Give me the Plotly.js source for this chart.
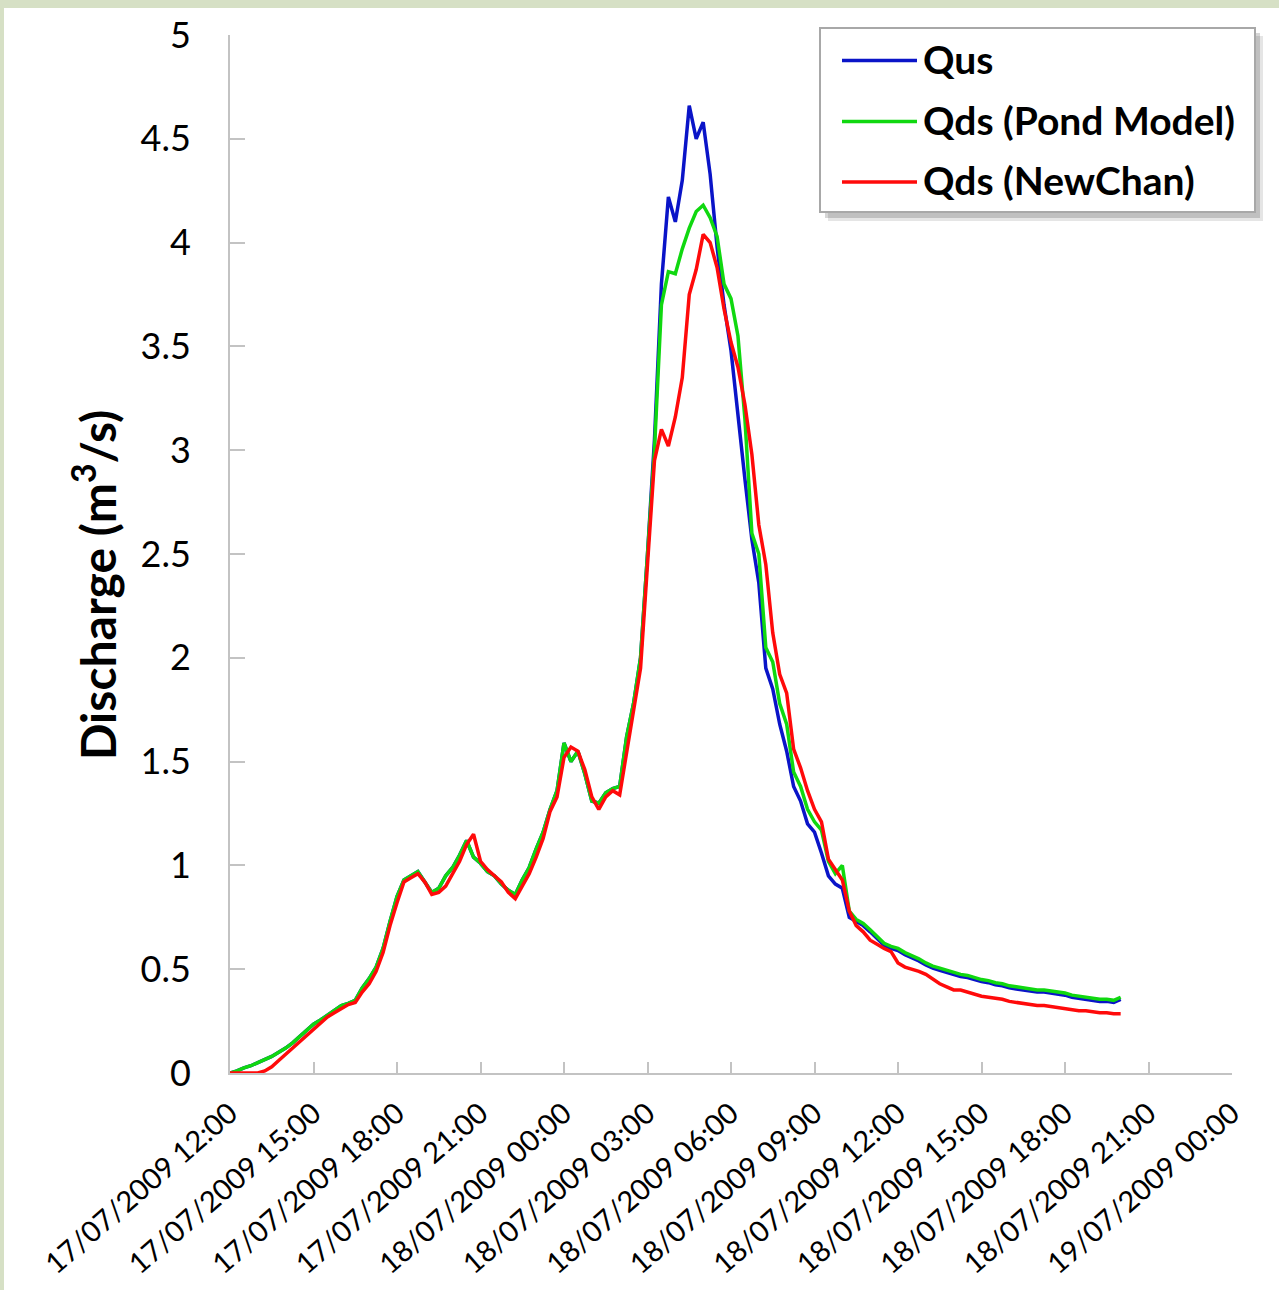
<!DOCTYPE html>
<html>
<head>
<meta charset="utf-8">
<script src="https://cdn.plot.ly/plotly-3.0.1.min.js"></script>
<style>
  html, body { margin: 0; padding: 0; background: #ffffff; }
  #frame { width: 1275px; height: 1282px; border-top: 8px solid #d6e0c5; border-left: 4px solid #d6e0c5; }
  #chart { width: 1275px; height: 1282px; }
</style>
</head>
<body>
<div id="frame"><div id="chart"></div></div>
<script>
// ---- data (15-minute samples starting 17/07/2009 12:00) ----
const START_TIME = '2009-07-17 12:00';
const STEP_MINUTES = 15;

const SERIES_NAMES = ['Qus', 'Qds (Pond Model)', 'Qds (NewChan)'];
const Y_TITLE = 'Discharge (m<sup>3</sup>/s)';

const qus = [
  0.00, 0.01, 0.025, 0.035, 0.05, 0.065, 0.08, 0.10, 0.12, 0.145,
  0.175, 0.20, 0.235, 0.255, 0.28, 0.30, 0.325, 0.335, 0.35, 0.41,
  0.455, 0.51, 0.60, 0.73, 0.85, 0.93, 0.95, 0.97, 0.92, 0.87,
  0.89, 0.95, 0.99, 1.05, 1.12, 1.04, 1.01, 0.97, 0.95, 0.91,
  0.88, 0.86, 0.93, 0.99, 1.08, 1.16, 1.27, 1.36, 1.59, 1.50,
  1.55, 1.44, 1.31, 1.30, 1.35, 1.37, 1.38, 1.62, 1.78, 2.00,
  2.50, 3.05, 3.80, 4.22, 4.10, 4.30, 4.66, 4.50, 4.58, 4.33,
  3.98, 3.70, 3.48, 3.15, 2.86, 2.57, 2.36, 1.95, 1.85, 1.68,
  1.55, 1.38, 1.31, 1.20, 1.16, 1.06, 0.95, 0.91, 0.89, 0.75,
  0.73, 0.71, 0.68, 0.645, 0.615, 0.60, 0.59, 0.57, 0.555, 0.54,
  0.52, 0.505, 0.495, 0.485, 0.475, 0.465, 0.46, 0.45, 0.44, 0.435,
  0.425, 0.42, 0.41, 0.405, 0.40, 0.395, 0.39, 0.39, 0.385, 0.38,
  0.375, 0.365, 0.36, 0.355, 0.35, 0.345, 0.345, 0.34, 0.355
];

const qdsPond = [
  0.00, 0.01, 0.025, 0.035, 0.05, 0.065, 0.08, 0.10, 0.12, 0.145,
  0.175, 0.20, 0.235, 0.255, 0.28, 0.30, 0.325, 0.335, 0.35, 0.41,
  0.455, 0.51, 0.60, 0.73, 0.85, 0.93, 0.95, 0.97, 0.92, 0.87,
  0.89, 0.95, 0.99, 1.05, 1.12, 1.04, 1.01, 0.97, 0.95, 0.91,
  0.88, 0.86, 0.93, 0.99, 1.08, 1.16, 1.27, 1.36, 1.59, 1.50,
  1.55, 1.44, 1.31, 1.30, 1.35, 1.37, 1.38, 1.62, 1.78, 2.00,
  2.50, 3.00, 3.70, 3.86, 3.85, 3.97, 4.07, 4.15, 4.18, 4.12,
  4.03, 3.80, 3.73, 3.55, 3.15, 2.60, 2.50, 2.05, 1.98, 1.78,
  1.68, 1.45, 1.38, 1.27, 1.21, 1.17, 1.02, 0.96, 1.00, 0.78,
  0.74, 0.72, 0.69, 0.655, 0.625, 0.61, 0.60, 0.58, 0.565, 0.55,
  0.53, 0.515, 0.505, 0.495, 0.485, 0.475, 0.47, 0.46, 0.45, 0.445,
  0.435, 0.43, 0.42, 0.415, 0.41, 0.405, 0.40, 0.40, 0.395, 0.39,
  0.385, 0.375, 0.37, 0.365, 0.36, 0.355, 0.355, 0.35, 0.365
];

const qdsNewChan = [
  0.00, 0.00, 0.00, 0.00, 0.00, 0.01, 0.03, 0.06, 0.09, 0.12,
  0.15, 0.18, 0.215, 0.245, 0.27, 0.29, 0.31, 0.33, 0.34, 0.39,
  0.43, 0.49, 0.58, 0.71, 0.82, 0.92, 0.94, 0.96, 0.92, 0.86,
  0.87, 0.90, 0.96, 1.02, 1.10, 1.15, 1.02, 0.98, 0.95, 0.92,
  0.87, 0.84, 0.90, 0.96, 1.04, 1.13, 1.26, 1.33, 1.52, 1.57,
  1.55, 1.46, 1.33, 1.27, 1.33, 1.36, 1.34, 1.55, 1.75, 1.95,
  2.45, 2.95, 3.10, 3.02, 3.16, 3.35, 3.75, 3.87, 4.04, 4.00,
  3.88, 3.68, 3.52, 3.40, 3.22, 2.98, 2.64, 2.45, 2.12, 1.92,
  1.83, 1.56, 1.47, 1.36, 1.27, 1.21, 1.03, 0.98, 0.93, 0.78,
  0.71, 0.68, 0.64, 0.62, 0.60, 0.585, 0.53, 0.51, 0.50, 0.49,
  0.475, 0.45, 0.43, 0.415, 0.40, 0.40, 0.39, 0.38, 0.37, 0.365,
  0.36, 0.355, 0.345, 0.34, 0.335, 0.33, 0.325, 0.325, 0.32, 0.315,
  0.31, 0.305, 0.30, 0.30, 0.295, 0.29, 0.29, 0.285, 0.285
];

const TICK_TIMES = [
  '2009-07-17 12:00', '2009-07-17 15:00', '2009-07-17 18:00', '2009-07-17 21:00',
  '2009-07-18 00:00', '2009-07-18 03:00', '2009-07-18 06:00', '2009-07-18 09:00',
  '2009-07-18 12:00', '2009-07-18 15:00', '2009-07-18 18:00', '2009-07-18 21:00',
  '2009-07-19 00:00'
];
const TICK_LABELS = [
  '17/07/2009 12:00', '17/07/2009 15:00', '17/07/2009 18:00', '17/07/2009 21:00',
  '18/07/2009 00:00', '18/07/2009 03:00', '18/07/2009 06:00', '18/07/2009 09:00',
  '18/07/2009 12:00', '18/07/2009 15:00', '18/07/2009 18:00', '18/07/2009 21:00',
  '19/07/2009 00:00'
];

// ---- styling ----
const COLORS = ['#0a14c8', '#10d810', '#ff0a0a'];
const FONT = 'Lato, "Open Sans", sans-serif';
const AXIS_GRAY = '#c3c3c3';

const W = 1275, H = 1282;
const M = { l: 226, r: 47, t: 27, b: 217 };
const PW = W - M.l - M.r, PH = H - M.t - M.b;
// helpers: convert chart-div pixel to paper coords
const px = (x) => (x - M.l) / PW;
const py = (y) => (H - M.b - y) / PH;

const seriesData = [qus, qdsPond, qdsNewChan];
const traces = seriesData.map((vals, i) => ({
  type: 'scatter',
  mode: 'lines',
  name: SERIES_NAMES[i],
  x0: START_TIME,
  dx: STEP_MINUTES * 60 * 1000,
  y: vals,
  line: { color: COLORS[i], width: 3.5 },
  showlegend: false
}));

// custom legend (box with shadow, long line keys) — positions in chart-div pixels
const LEG = { x0: 816, x1: 1251, y0: 20, y1: 204 };
const rowY = [52.5, 113.5, 174];
const shapes = [
  { type: 'rect', xref: 'paper', yref: 'paper', x0: px(LEG.x0 + 8), x1: px(LEG.x1 + 8), y0: py(LEG.y1 + 9), y1: py(LEG.y0 + 8),
    fillcolor: 'rgba(0,0,0,0.10)', line: { width: 0 }, layer: 'above' },
  { type: 'rect', xref: 'paper', yref: 'paper', x0: px(LEG.x0 + 5), x1: px(LEG.x1 + 5), y0: py(LEG.y1 + 6), y1: py(LEG.y0 + 5),
    fillcolor: 'rgba(0,0,0,0.16)', line: { width: 0 }, layer: 'above' },
  { type: 'rect', xref: 'paper', yref: 'paper', x0: px(LEG.x0), x1: px(LEG.x1), y0: py(LEG.y1), y1: py(LEG.y0),
    fillcolor: '#ffffff', line: { color: '#a8a8a8', width: 2 }, layer: 'above' }
];
const annotations = [];
SERIES_NAMES.forEach((name, i) => {
  shapes.push({ type: 'line', xref: 'paper', yref: 'paper', x0: px(838), x1: px(913), y0: py(rowY[i]), y1: py(rowY[i]),
    line: { color: COLORS[i], width: 3.5 }, layer: 'above' });
  annotations.push({ xref: 'paper', yref: 'paper', x: px(917), y: py(rowY[i] - 2), xanchor: 'left', yanchor: 'middle',
    text: name, showarrow: false, font: { family: FONT, size: 39, weight: 'bold', color: '#000' } });
});
// y-axis title (placed as in the reference, slightly below the plot centre)
annotations.push({ xref: 'paper', yref: 'paper', x: px(91), y: py(577), xanchor: 'center', yanchor: 'middle',
  textangle: -90, text: Y_TITLE, showarrow: false,
  font: { family: FONT, size: 48, weight: 'bold', color: '#000' } });

const layout = {
  width: W, height: H,
  margin: M,
  paper_bgcolor: '#ffffff',
  plot_bgcolor: '#ffffff',
  showlegend: false,
  xaxis: {
    type: 'date',
    range: [TICK_TIMES[0], TICK_TIMES[TICK_TIMES.length - 1]],
    tickmode: 'array', tickvals: TICK_TIMES, ticktext: TICK_LABELS,
    tickangle: -41,
    ticks: 'inside', ticklen: 11, tickwidth: 2, tickcolor: AXIS_GRAY,
    showline: true, linecolor: AXIS_GRAY, linewidth: 2,
    showgrid: false, zeroline: false,
    tickfont: { family: FONT, size: 29, color: '#000' },
    ticklabelstandoff: 10,
    automargin: false
  },
  yaxis: {
    range: [0, 5], dtick: 0.5, tick0: 0,
    ticks: 'inside', ticklen: 15, tickwidth: 2, tickcolor: AXIS_GRAY,
    showline: true, linecolor: AXIS_GRAY, linewidth: 2,
    showgrid: false, zeroline: false,
    tickfont: { family: FONT, size: 36, color: '#000' },
    ticklabelstandoff: 30,
    automargin: false
  },
  shapes: shapes,
  annotations: annotations
};

Plotly.newPlot('chart', traces, layout, { displayModeBar: false, staticPlot: true });
</script>
</body>
</html>
